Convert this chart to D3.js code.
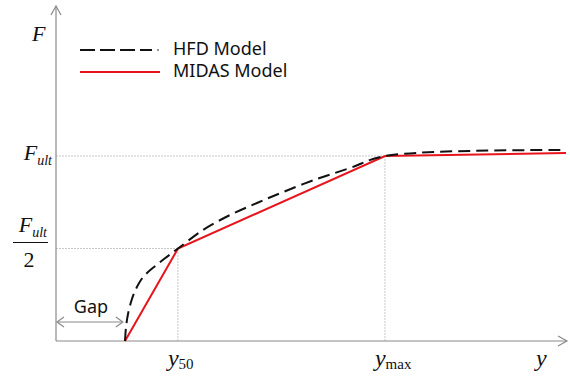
<!DOCTYPE html>
<html lang="en">
<head>
<meta charset="utf-8">
<title>HFD vs MIDAS</title>
<script src="https://d3js.org/d3.v7.min.js"></script>
<style>
  body { margin: 0; background: #fff; }
</style>
</head>
<body>
<script>
// displacement in arbitrary units (0..100 along the axis), force as F / Fult
const gap = 13.5;
const y50 = 23.9;
const ymax = 64.5;

const hfdPoints = [
  [13.53, 0], [13.73, 0.076], [14.12, 0.146], [14.71, 0.211], [15.49, 0.270],
  [16.47, 0.322], [17.65, 0.362], [19.22, 0.400], [21.18, 0.443], [23.92, 0.5],
  [28.82, 0.600], [34.12, 0.681], [39.41, 0.746], [44.51, 0.805], [51.18, 0.876],
  [57.65, 0.935], [64.51, 1.0], [100, 1.032]
];
const midasPoints = [[13.53, 0], [23.92, 0.5], [64.51, 1.0], [100, 1.016]];

const legendLabels = ["HFD Model", "MIDAS Model"];

const width = 570;
const height = 382;

const x = d3.scaleLinear().domain([0, 100]).range([56, 566]);
const y = d3.scaleLinear().domain([0, 1]).range([341, 156]);

const svg = d3.select("body").append("svg")
  .attr("width", width)
  .attr("height", height)
  .attr("viewBox", [0, 0, width, height]);

const axisColor = "#8a8a8a";
const guideColor = "#c8c8c8";

// guide lines
const guides = [
  [[0, 1], [ymax, 1]],
  [[0, 0.5], [y50, 0.5]],
  [[y50, 0], [y50, 0.5]],
  [[ymax, 0], [ymax, 1]]
];
svg.append("g")
  .attr("stroke", guideColor)
  .attr("stroke-width", 1)
  .attr("stroke-dasharray", "2,1")
  .selectAll("line")
  .data(guides)
  .join("line")
  .attr("x1", d => x(d[0][0]))
  .attr("y1", d => y(d[0][1]))
  .attr("x2", d => x(d[1][0]))
  .attr("y2", d => y(d[1][1]));

// axes with open arrow heads
const axes = svg.append("g")
  .attr("stroke", axisColor)
  .attr("stroke-width", 1.2)
  .attr("fill", "none");
const x0 = x(0), yb = y(0);
const yTop = 6, xRight = 567;
axes.append("path").attr("d", `M${x0},${yb}V${yTop}`);
axes.append("path").attr("d", `M${x0 - 5},${yTop + 9}L${x0},${yTop}L${x0 + 5},${yTop + 9}`);
axes.append("path").attr("d", `M${x0},${yb}H${xRight}`);
axes.append("path").attr("d", `M${xRight - 9},${yb - 5}L${xRight},${yb}L${xRight - 9},${yb + 5}`);

// gap arrow
const gy = 322;
const gx1 = x(0) + 1, gx2 = x(gap) - 2;
axes.append("path").attr("d", `M${gx1},${gy}H${gx2}`);
axes.append("path").attr("d", `M${gx1 + 7},${gy - 5}L${gx1},${gy}L${gx1 + 7},${gy + 5}`);
axes.append("path").attr("d", `M${gx2 - 7},${gy - 5}L${gx2},${gy}L${gx2 - 7},${gy + 5}`);

svg.append("text")
  .attr("x", (gx1 + gx2) / 2 + 1)
  .attr("y", 313)
  .attr("text-anchor", "middle")
  .attr("font-family", "'Noto Sans', sans-serif")
  .attr("font-size", 18)
  .attr("fill", "#111")
  .text("Gap");

// curves
const line = d3.line().x(d => x(d[0])).y(d => y(d[1]));
const hfdLine = d3.line().x(d => x(d[0])).y(d => y(d[1])).curve(d3.curveCatmullRom.alpha(0.5));

svg.append("path")
  .datum(midasPoints)
  .attr("fill", "none")
  .attr("stroke", "#e8141c")
  .attr("stroke-width", 2)
  .attr("d", line);

svg.append("path")
  .datum(hfdPoints)
  .attr("fill", "none")
  .attr("stroke", "#111")
  .attr("stroke-width", 2)
  .attr("stroke-dasharray", "12,6")
  .attr("d", hfdLine);

// legend
const legend = svg.append("g");
legend.append("line")
  .attr("x1", 80).attr("x2", 152).attr("y1", 50).attr("y2", 50)
  .attr("stroke", "#111").attr("stroke-width", 2).attr("stroke-dasharray", "15,5");
legend.append("circle").attr("cx", 158).attr("cy", 50).attr("r", 0.8).attr("fill", "#111");
legend.append("line")
  .attr("x1", 80).attr("x2", 160).attr("y1", 72).attr("y2", 72)
  .attr("stroke", "#e8141c").attr("stroke-width", 2);
legend.selectAll("text")
  .data(legendLabels)
  .join("text")
  .attr("x", 173)
  .attr("y", (d, i) => 55 + i * 22)
  .attr("font-family", "'Noto Sans', sans-serif")
  .attr("font-size", 18)
  .attr("fill", "#111")
  .text(d => d);

// math labels
const serif = "'Liberation Serif', 'Times New Roman', serif";
const math = svg.append("g").attr("font-family", serif).attr("fill", "#111");

math.append("text")
  .attr("x", 32).attr("y", 41)
  .attr("font-size", 22).attr("font-style", "italic")
  .text("F");

// F_ult
const fult = math.append("text")
  .attr("x", 52).attr("y", y(1) + 4)
  .attr("text-anchor", "end")
  .attr("font-style", "italic");
fult.append("tspan").attr("font-size", 22).text("F");
fult.append("tspan").attr("font-size", 14).attr("dy", 5).text("ult");

// F_ult / 2
const half = math.append("text")
  .attr("x", 47).attr("y", y(0.5) - 17)
  .attr("text-anchor", "end")
  .attr("font-style", "italic");
half.append("tspan").attr("font-size", 22).text("F");
half.append("tspan").attr("font-size", 14).attr("dy", 5).text("ult");
math.append("line")
  .attr("x1", 13).attr("x2", 48).attr("y1", y(0.5) - 6).attr("y2", y(0.5) - 6)
  .attr("stroke", "#111").attr("stroke-width", 1.2);
math.append("text")
  .attr("x", 29).attr("y", y(0.5) + 18)
  .attr("text-anchor", "middle")
  .attr("font-size", 22)
  .text("2");

// x labels
const xLabels = [
  { v: y50, main: "y", sub: "50" },
  { v: ymax, main: "y", sub: "max" }
];
xLabels.forEach(d => {
  const t = math.append("text")
    .attr("x", x(d.v) - 10)
    .attr("y", 366);
  t.append("tspan").attr("font-size", 24).attr("font-style", "italic").text(d.main);
  t.append("tspan").attr("font-size", 15).attr("dy", 3).text(d.sub);
});
math.append("text")
  .attr("x", 536).attr("y", 366)
  .attr("font-size", 24).attr("font-style", "italic")
  .text("y");
</script>
</body>
</html>
